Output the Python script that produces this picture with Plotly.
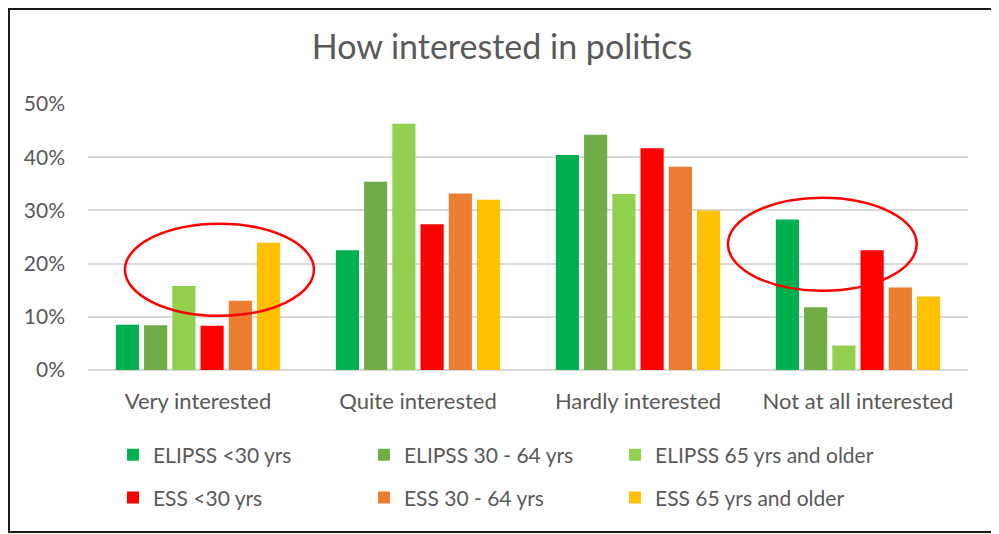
import plotly.graph_objects as go

categories = ["Very interested", "Quite interested", "Hardly interested", "Not at all interested"]

elipss_u30 = [8.5, 22.5, 40.4, 28.3]
elipss_30_64 = [8.4, 35.4, 44.2, 11.8]
elipss_65 = [15.8, 46.3, 33.1, 4.6]
ess_u30 = [8.3, 27.4, 41.7, 22.5]
ess_30_64 = [13.0, 33.2, 38.2, 15.5]
ess_65 = [23.9, 32.0, 30.0, 13.8]

series_names = ["ELIPSS <30 yrs", "ELIPSS 30 - 64 yrs", "ELIPSS 65 yrs and older",
                "ESS <30 yrs", "ESS 30 - 64 yrs", "ESS 65 yrs and older"]
series_values = [elipss_u30, elipss_30_64, elipss_65, ess_u30, ess_30_64, ess_65]
series_colors = ["#00B050", "#70AD47", "#92D050", "#FF0000", "#ED7D31", "#FFC000"]

TXT = "#595959"
FONT = "Lato"

# legend slots: 3 columns x 2 rows
leg_x = [0.0284, 0.3136, 0.5989]
leg_y = [-0.3195, -0.481]
legend_ids = ["legend", "legend2", "legend3", "legend4", "legend5", "legend6"]

fig = go.Figure()
for i, (name, vals, col) in enumerate(zip(series_names, series_values, series_colors)):
    fig.add_trace(go.Bar(x=categories, y=vals, name=name, marker=dict(color=col, line=dict(width=0)),
                         legend=legend_ids[i], showlegend=True))

# highlight ellipses (annotations)
fig.add_shape(type="circle", xref="x", yref="y", x0=-0.332, x1=0.527, y0=10.2, y1=27.5,
              line=dict(color="#FF0000", width=2.5))
fig.add_shape(type="circle", xref="x", yref="y", x0=2.409, x1=3.267, y0=14.9, y1=32.4,
              line=dict(color="#FF0000", width=2.5))
# outer frame
fig.add_shape(type="rect", xref="paper", yref="paper", x0=-0.0898, x1=1.034, y0=-0.609, y1=1.357,
              line=dict(color="#1a1a1a", width=2), layer="below")

leg_layout = {}
for i, lid in enumerate(legend_ids):
    leg_layout[lid] = dict(orientation="v", xanchor="left", yanchor="middle",
                           x=leg_x[i % 3], y=leg_y[i // 3],
                           font=dict(family=FONT, size=21, color=TXT),
                           bgcolor="rgba(0,0,0,0)", itemclick=False, visible=True)

fig.update_layout(
    width=991, height=526,
    showlegend=True,
    margin=dict(l=80, r=31, t=96, b=164),
    paper_bgcolor="white", plot_bgcolor="white",
    title=dict(text="How interested in politics", x=0.4985, xanchor="center", y=0.926, yanchor="middle",
               font=dict(family=FONT, size=34, color=TXT)),
    barmode="group", bargap=0.23, bargroupgap=0.18,
    font=dict(family=FONT, color=TXT),
    xaxis=dict(showgrid=False, showline=False, ticks="", tickfont=dict(family=FONT, size=22, color=TXT),
               ticklabelstandoff=16),
    yaxis=dict(range=[0, 50], dtick=10, ticksuffix="%", showgrid=True, gridcolor="#D9D9D9", gridwidth=1.5,
               zeroline=True, zerolinecolor="#D9D9D9", zerolinewidth=1.5, showline=False, ticks="",
               tickfont=dict(family=FONT, size=21, color=TXT), ticklabelstandoff=22),
    **leg_layout,
)

fig.write_html("out.html")
